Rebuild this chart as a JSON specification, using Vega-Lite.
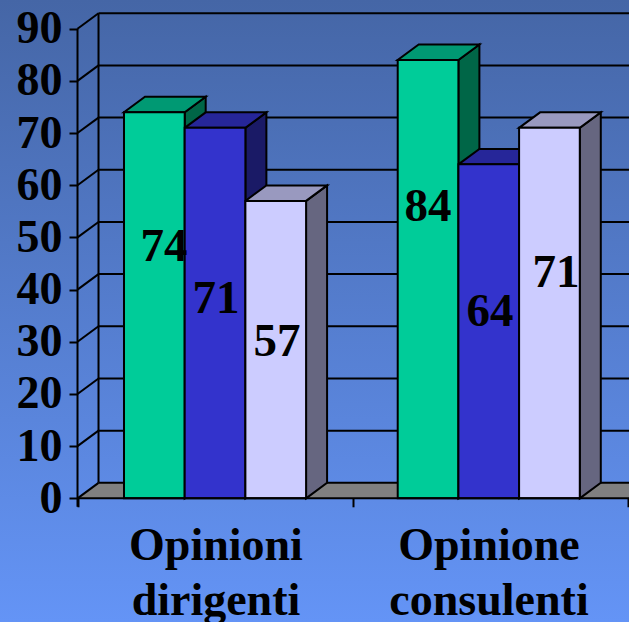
{
  "$schema": "https://vega.github.io/schema/vega-lite/v6.json",
  "width": 629,
  "height": 622,
  "padding": 0,
  "autosize": {"type": "none"},
  "background": "#5e8ef0",
  "config": {
    "view": {
      "stroke": null,
      "fill": {
        "gradient": "linear",
        "x1": 0, "y1": 0, "x2": 0, "y2": 1,
        "stops": [
          {"offset": 0, "color": "#4566a6"},
          {"offset": 1, "color": "#6494f6"}
        ]
      }
    }
  },
  "datasets": {
    "bars": [
      {"group": "Opinioni dirigenti", "series": "A", "value": 74},
      {"group": "Opinioni dirigenti", "series": "B", "value": 71},
      {"group": "Opinioni dirigenti", "series": "C", "value": 57},
      {"group": "Opinione consulenti", "series": "A", "value": 84},
      {"group": "Opinione consulenti", "series": "B", "value": 64},
      {"group": "Opinione consulenti", "series": "C", "value": 71}
    ],
    "ticks": [
      {"tick": 0}, {"tick": 10}, {"tick": 20}, {"tick": 30}, {"tick": 40},
      {"tick": 50}, {"tick": 60}, {"tick": 70}, {"tick": 80}, {"tick": 90}
    ],
    "groups": [
      {"place": 0.503, "label": "Opinioni\ndirigenti"},
      {"place": 1.495, "label": "Opinione\nconsulenti"}
    ]
  },
  "layer": [
    {
      "description": "Grey chart floor seen in perspective",
      "data": {"values": [{"part": "floor"}]},
      "transform": [
        {"calculate": "[0, 0.0763, 2.0036]", "as": "fx"},
        {"calculate": "[0, 0, 0]", "as": "fLow"},
        {"calculate": "[0, 2.968, 2.968]", "as": "fHigh"},
        {"flatten": ["fx", "fLow", "fHigh"]}
      ],
      "mark": {"type": "area", "orient": "vertical", "color": "#808080", "stroke": null},
      "encoding": {
        "x": {
          "field": "fx", "type": "quantitative",
          "scale": {"domain": [-0.2816, 2.0036], "nice": false, "zero": false},
          "axis": {
            "orient": "bottom", "offset": -123.7, "values": [0, 1, 2], "labels": false, "title": null,
            "domain": false, "grid": false, "ticks": true, "tickSize": 8.5, "tickWidth": 2, "tickColor": "#000000"
          }
        },
        "y": {
          "field": "fLow", "type": "quantitative",
          "scale": {"domain": [-23.7, 95.5], "nice": false, "zero": false},
          "axis": {
            "orient": "left", "offset": -77.5, "values": [0, 10, 20, 30, 40, 50, 60, 70, 80, 90], "title": null,
            "domain": false, "grid": false, "tickSize": 8.5, "tickWidth": 2, "tickColor": "#000000",
            "labelFont": "Liberation Serif", "labelFontWeight": "bold", "labelFontSize": 46,
            "labelColor": "#000000", "labelPadding": 7, "labelBaseline": "middle",
            "labelOverlap": false, "labelBound": false, "labelFlush": false
          }
        },
        "y2": {"field": "fHigh"}
      }
    },
    {
      "description": "Horizontal gridlines on the back wall",
      "data": {"name": "ticks"},
      "transform": [
        {"calculate": "datum.tick + 2.968", "as": "backY"}
      ],
      "mark": {"type": "rule", "color": "#000000", "strokeWidth": 2},
      "encoding": {
        "x": {"datum": 0.0763, "type": "quantitative", "scale": {"domain": [-0.2816, 2.0036], "nice": false, "zero": false}},
        "x2": {"datum": 2.0036},
        "y": {"field": "backY", "type": "quantitative", "scale": {"domain": [-23.7, 95.5], "nice": false, "zero": false}}
      }
    },
    {
      "description": "Gridlines running across the side wall",
      "data": {"name": "ticks"},
      "transform": [
        {"calculate": "datum.tick + 2.968", "as": "backY"}
      ],
      "mark": {"type": "rule", "color": "#000000", "strokeWidth": 2},
      "encoding": {
        "x": {"datum": 0, "type": "quantitative", "scale": {"domain": [-0.2816, 2.0036], "nice": false, "zero": false}},
        "x2": {"datum": 0.0763},
        "y": {"field": "tick", "type": "quantitative", "scale": {"domain": [-23.7, 95.5], "nice": false, "zero": false}},
        "y2": {"field": "backY"}
      }
    },
    {
      "description": "Back corner of the walls",
      "data": {"values": [{"part": "corner"}]},
      "mark": {"type": "rule", "color": "#000000", "strokeWidth": 2},
      "encoding": {
        "x": {"datum": 0.0763, "type": "quantitative", "scale": {"domain": [-0.2816, 2.0036], "nice": false, "zero": false}},
        "y": {"datum": 2.968, "type": "quantitative", "scale": {"domain": [-23.7, 95.5], "nice": false, "zero": false}},
        "y2": {"datum": 92.968}
      }
    },
    {
      "description": "Front vertical axis line",
      "data": {"values": [{"part": "value axis"}]},
      "mark": {"type": "rule", "color": "#000000", "strokeWidth": 2},
      "encoding": {
        "x": {"datum": 0, "type": "quantitative", "scale": {"domain": [-0.2816, 2.0036], "nice": false, "zero": false}},
        "y": {"datum": -1.6, "type": "quantitative", "scale": {"domain": [-23.7, 95.5], "nice": false, "zero": false}},
        "y2": {"datum": 90}
      }
    },
    {
      "description": "Three-dimensional columns: side faces, then top faces, then fronts and value labels",
      "data": {"name": "bars"},
      "transform": [
        {"calculate": "indexof(['Opinioni dirigenti', 'Opinione consulenti'], datum.group)", "as": "category"},
        {"calculate": "indexof(['A', 'B', 'C'], datum.series)", "as": "slot"},
        {"calculate": "datum.category * 3 + datum.slot", "as": "bar"},
        {"calculate": "datum.category + [0.1689, 0.1633][datum.category] + datum.slot * 0.2205", "as": "x0"},
        {"calculate": "datum.x0 + 0.2205", "as": "x1"},
        {"calculate": "datum.value + 2.968", "as": "back"},
        {"calculate": "[0.314, 0.503, 0.725, 1.273, 1.499, 1.738][datum.bar]", "as": "labelX"},
        {"calculate": "[48.2, 38.2, 30.0, 55.8, 35.7, 43.2][datum.bar]", "as": "labelY"}
      ],
      "layer": [
        {
          "transform": [
            {"calculate": "[datum.x1, datum.x1 + 0.0763]", "as": "sx"},
            {"calculate": "[0, 2.968]", "as": "sLow"},
            {"calculate": "[datum.value, datum.back]", "as": "sHigh"},
            {"flatten": ["sx", "sLow", "sHigh"]}
          ],
          "mark": {"type": "area", "orient": "vertical", "stroke": "#000000", "strokeWidth": 2, "strokeJoin": "miter", "opacity": 1},
          "encoding": {
            "x": {"field": "sx", "type": "quantitative", "scale": {"domain": [-0.2816, 2.0036], "nice": false, "zero": false}},
            "y": {"field": "sLow", "type": "quantitative", "scale": {"domain": [-23.7, 95.5], "nice": false, "zero": false}},
            "y2": {"field": "sHigh"},
            "detail": {"field": "bar"},
            "fill": {
              "field": "series", "type": "nominal", "legend": null,
              "scale": {"domain": ["A", "B", "C"], "range": ["#006647", "#1a1a66", "#666680"]}
            }
          }
        },
        {
          "transform": [
            {"calculate": "[datum.x0, datum.x0 + 0.0763, datum.x1, datum.x1 + 0.0763]", "as": "tx"},
            {"calculate": "[datum.value, datum.value, datum.value, datum.back]", "as": "tLow"},
            {"calculate": "[datum.value, datum.back, datum.back, datum.back]", "as": "tHigh"},
            {"flatten": ["tx", "tLow", "tHigh"]}
          ],
          "mark": {"type": "area", "orient": "vertical", "stroke": "#000000", "strokeWidth": 2, "strokeJoin": "miter", "opacity": 1},
          "encoding": {
            "x": {"field": "tx", "type": "quantitative", "scale": {"domain": [-0.2816, 2.0036], "nice": false, "zero": false}},
            "y": {"field": "tLow", "type": "quantitative", "scale": {"domain": [-23.7, 95.5], "nice": false, "zero": false}},
            "y2": {"field": "tHigh"},
            "detail": {"field": "bar"},
            "fill": {
              "field": "series", "type": "nominal", "legend": null,
              "scale": {"domain": ["A", "B", "C"], "range": ["#009973", "#262699", "#9999bf"]}
            }
          }
        },
        {
          "mark": {"type": "rect", "stroke": "#000000", "strokeWidth": 2, "opacity": 1},
          "encoding": {
            "x": {"field": "x0", "type": "quantitative", "scale": {"domain": [-0.2816, 2.0036], "nice": false, "zero": false}},
            "x2": {"field": "x1"},
            "y": {"field": "value", "type": "quantitative", "scale": {"domain": [-23.7, 95.5], "nice": false, "zero": false}},
            "y2": {"datum": 0},
            "fill": {
              "field": "series", "type": "nominal", "legend": null,
              "scale": {"domain": ["A", "B", "C"], "range": ["#00cc99", "#3333cc", "#ccccff"]}
            }
          }
        },
        {
          "mark": {
            "type": "text", "font": "Liberation Serif", "fontWeight": "bold", "fontSize": 47,
            "color": "#000000", "align": "center", "baseline": "middle"
          },
          "encoding": {
            "x": {"field": "labelX", "type": "quantitative", "scale": {"domain": [-0.2816, 2.0036], "nice": false, "zero": false}},
            "y": {"field": "labelY", "type": "quantitative", "scale": {"domain": [-23.7, 95.5], "nice": false, "zero": false}},
            "text": {"field": "value", "type": "quantitative"}
          }
        }
      ],
      "resolve": {"scale": {"fill": "independent"}}
    },
    {
      "description": "Front baseline of the category axis",
      "data": {"values": [{"part": "category axis"}]},
      "mark": {"type": "rule", "color": "#000000", "strokeWidth": 2},
      "encoding": {
        "x": {"datum": 0, "type": "quantitative", "scale": {"domain": [-0.2816, 2.0036], "nice": false, "zero": false}},
        "x2": {"datum": 2.0036},
        "y": {"datum": 0, "type": "quantitative", "scale": {"domain": [-23.7, 95.5], "nice": false, "zero": false}}
      }
    },
    {
      "description": "Two-line category names under the axis",
      "data": {"name": "groups"},
      "mark": {
        "type": "text", "font": "Liberation Serif", "fontWeight": "bold", "fontSize": 46,
        "color": "#000000", "align": "center", "baseline": "alphabetic", "lineBreak": "\n", "lineHeight": 55
      },
      "encoding": {
        "x": {"field": "place", "type": "quantitative", "scale": {"domain": [-0.2816, 2.0036], "nice": false, "zero": false}},
        "y": {"datum": -11.8, "type": "quantitative", "scale": {"domain": [-23.7, 95.5], "nice": false, "zero": false}},
        "text": {"field": "label", "type": "nominal"}
      }
    }
  ],
  "resolve": {"scale": {"fill": "independent"}}
}
